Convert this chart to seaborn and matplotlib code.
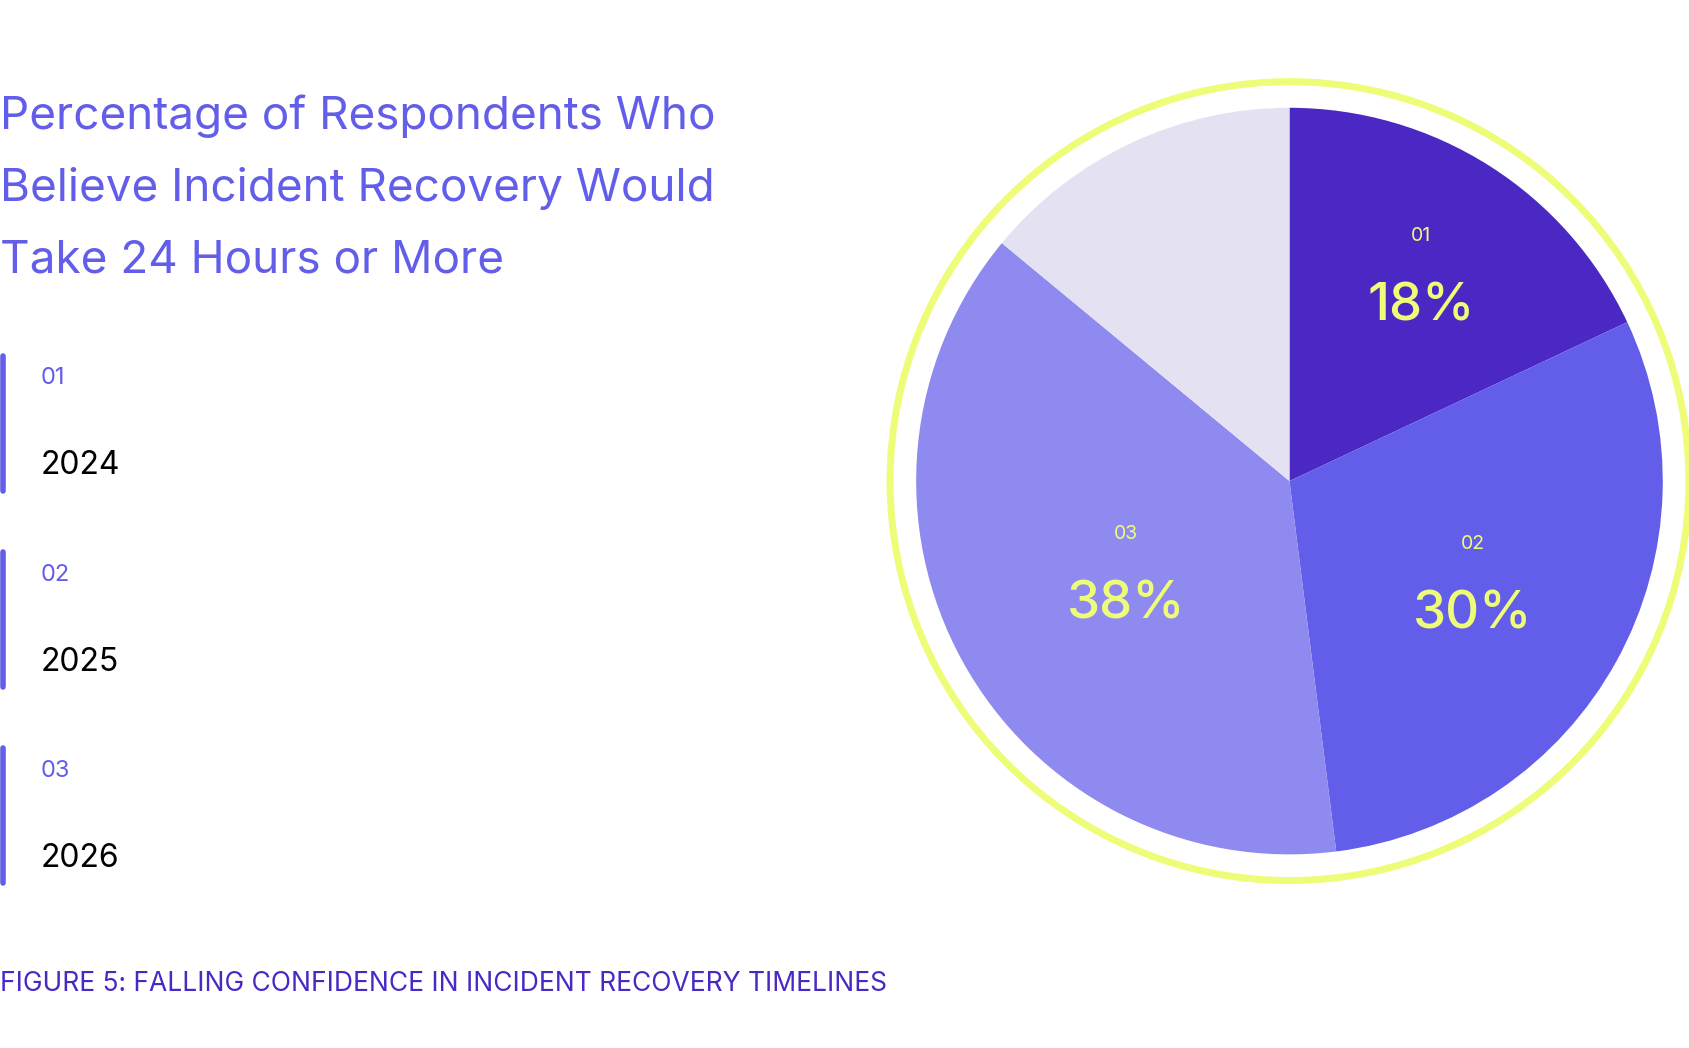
import matplotlib
matplotlib.use("Agg")
import matplotlib.pyplot as plt
import seaborn as sns
import numpy as np

sns.set_theme(style="white")
plt.rcParams['font.family'] = ['Inter', 'DejaVu Sans']

codes = ["01", "02", "03"]
years = ["2024", "2025", "2026"]
shares = [18, 30, 38]
rest = 100 - sum(shares)
colors = ["#4B28C4", "#625EE9", "#8E8AEF"]
rest_color = "#E4E2F2"
label_r = [0.66, 0.56, 0.50]

fig = plt.figure(figsize=(16.9, 10.48), dpi=100)
fig.patch.set_facecolor("white")

# pie
ax = fig.add_axes([0.763 - 0.2485, 0.541 - 0.4008, 0.497, 0.8015])
wedges, _ = ax.pie(shares + [rest], colors=colors + [rest_color], startangle=90,
                   counterclock=False, radius=1.0,
                   wedgeprops=dict(linewidth=0))
ax.add_patch(plt.Circle((0, 0), 1.07, fill=False, edgecolor="#EEFC77", linewidth=5))
ax.set_xlim(-1.125, 1.125)
ax.set_ylim(-1.125, 1.125)
ax.set_aspect("equal")
ax.axis("off")

for w, code, val, r in zip(wedges, codes, shares, label_r):
    ang = np.deg2rad((w.theta1 + w.theta2) / 2)
    x, y = r * np.cos(ang), r * np.sin(ang)
    ax.text(x, y + 0.1, code, color="#EEFC77", fontsize=14, ha="center", va="center")
    ax.text(x, y - 0.09, f"{val}%", color="#EEFC77", fontsize=38, ha="center",
            va="center", fontweight="medium")

# title
title = ["Percentage of Respondents Who", "Believe Incident Recovery Would",
         "Take 24 Hours or More"]
for i, line in enumerate(title):
    fig.text(0.0, 0.889 - i * 0.069, line, color="#625EE9", fontsize=33,
             ha="left", va="center")

# legend
for i, (code, yr) in enumerate(zip(codes, years)):
    top = 330 + i * 182
    fig.add_artist(plt.Line2D([0.002, 0.002], [1 - top / 972, 1 - (top + 125) / 972],
                              color="#625EE9", linewidth=4, transform=fig.transFigure))
    fig.text(0.024, 1 - (top + 21) / 972, code, color="#625EE9", fontsize=17, va="center")
    fig.text(0.024, 1 - (top + 102) / 972, yr, color="black", fontsize=23, va="center")

fig.text(0.0, 1 - 913 / 972, "FIGURE 5: FALLING CONFIDENCE IN INCIDENT RECOVERY TIMELINES",
         color="#4B28C4", fontsize=19, va="center", ha="left")

fig.savefig("out.png", dpi=100, facecolor="white")
